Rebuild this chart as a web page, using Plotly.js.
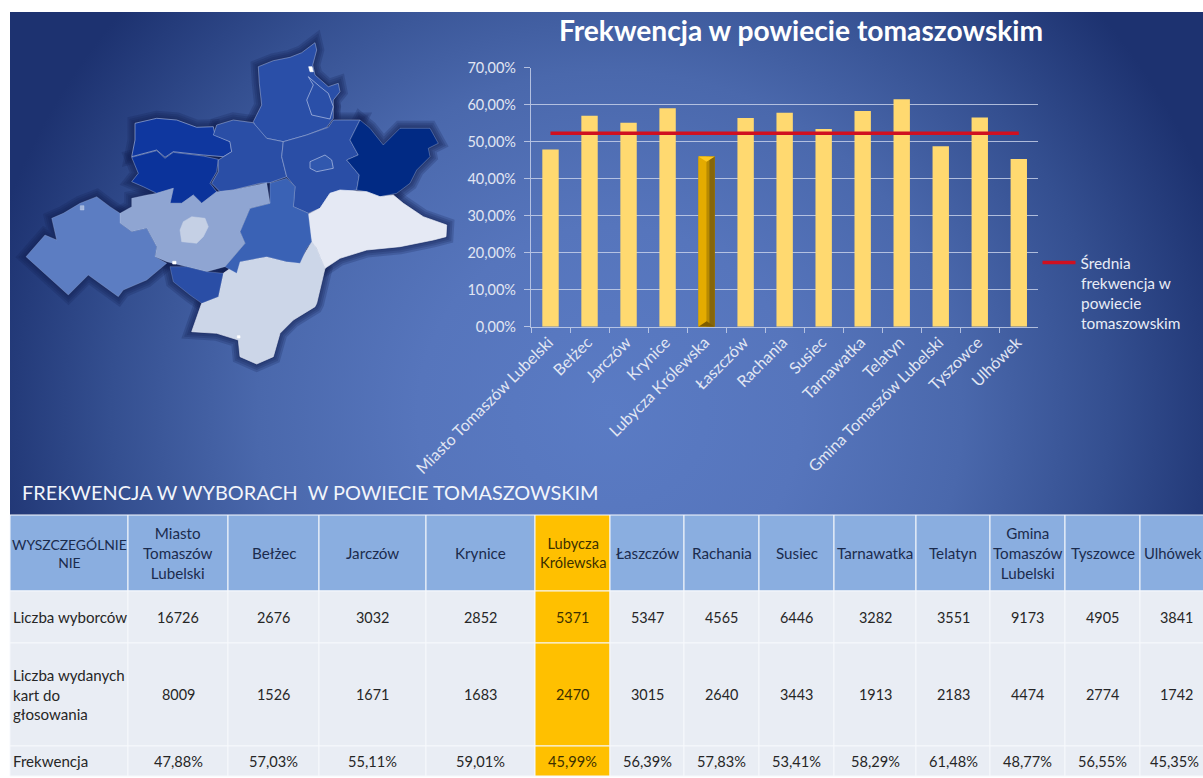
<!DOCTYPE html>
<html lang="pl">
<head>
<meta charset="utf-8">
<script src="https://cdn.plot.ly/plotly-3.0.1.min.js"></script>
<style>
html,body{margin:0;padding:0;background:#fff;overflow:hidden}
#panel{position:absolute;left:10px;top:12px;width:1193px;height:503px;
 background:radial-gradient(ellipse 640px 620px at 600px 400px,#5a7bc4 0%,#5675bc 30%,#4a68ac 55%,#344f90 78%,#1d3270 100%)}
#chart{position:absolute;left:0;top:0;width:1203px;height:778px}
</style>
</head>
<body>
<div id="panel"></div>
<div id="chart"></div>
<script>
const categories = ["Miasto Tomaszów Lubelski","Bełżec","Jarczów","Krynice","Lubycza Królewska","Łaszczów","Rachania","Susiec","Tarnawatka","Telatyn","Gmina Tomaszów Lubelski","Tyszowce","Ulhówek"];
const headerLabels = ["Miasto<br>Tomaszów<br>Lubelski","Bełżec","Jarczów","Krynice","Lubycza<br>Królewska","Łaszczów","Rachania","Susiec","Tarnawatka","Telatyn","Gmina<br>Tomaszów<br>Lubelski","Tyszowce","Ulhówek"];
const voters = [16726,2676,3032,2852,5371,5347,4565,6446,3282,3551,9173,4905,3841];
const ballots = [8009,1526,1671,1683,2470,3015,2640,3443,1913,2183,4474,2774,1742];
const turnout = [47.88,57.03,55.11,59.01,45.99,56.39,57.83,53.41,58.29,61.48,48.77,56.55,45.35];
const averageTurnout = [52.3,52.3,52.3,52.3,52.3,52.3,52.3,52.3,52.3,52.3,52.3,52.3,52.3];
const highlightIndex = 4;
const rowLabels = ["WYSZCZEGÓLNIE<br>NIE","Liczba wyborców","Liczba wydanych<br>kart do<br>głosowania","Frekwencja"];

const W = 1203, H = 778, FONT = "Lato, 'Open Sans', sans-serif";
const colEdges = [10,128,228,319,426,535,610,684,759,834,916,990,1065,1140,1215];
const rowEdges = [515,591,643,746,776];

const shapes = [], annotations = [];
const px = (s) => Object.assign({xref:'x2',yref:'y2'}, s);

/* decorative map, outlined in zoomed picture space */
const map = [
 {c:'#2a4fa8',b:'rgba(190,205,235,.55)',p:[[775,80],[820,62],[870,52],[905,38],[945,8],[950,30],[938,75],[945,105],[985,140],[1015,130],[1020,155],[1000,180],[1000,235],[980,262],[920,285],[850,305],[800,295],[770,268],[760,245],[785,195],[778,130]]},
 {c:'#2a4fa8',b:'rgba(205,215,240,.75)',p:[[925,110],[940,135],[920,180],[935,225],[990,237],[1000,200],[985,160],[960,140]]},
 {c:'#0f379f',b:'rgba(190,205,235,.7)',p:[[405,250],[470,235],[530,240],[590,262],[640,260],[645,285],[690,305],[695,335],[670,350],[610,345],[520,335],[495,352],[470,330],[395,350],[405,300]]},
 {c:'#0b339b',b:'rgba(190,205,235,.5)',p:[[395,352],[470,332],[495,355],[520,337],[610,348],[655,358],[650,395],[630,430],[650,455],[605,490],[580,465],[545,490],[510,490],[520,445],[470,460],[430,440],[395,425],[415,400]]},
 {c:'#2a4ea6',b:'rgba(190,205,235,.55)',p:[[650,255],[700,240],[760,248],[800,295],[850,305],[845,350],[860,410],[810,428],[780,430],[700,450],[660,455],[635,430],[655,395],[655,360],[695,335],[690,305],[640,285]]},
 {c:'#2a4ea6',b:'rgba(190,205,235,.55)',p:[[850,305],[920,285],[985,262],[1000,240],[1080,240],[1050,300],[1075,345],[1040,360],[1078,405],[1070,450],[990,460],[960,505],[925,520],[880,500],[885,440],[860,410],[845,350]]},
 {c:'#3158ae',b:'rgba(205,215,240,.75)',p:[[930,365],[975,345],[995,360],[1000,385],[950,395],[930,385]]},
 {c:'#012a84',b:'rgba(190,205,235,.4)',p:[[1080,240],[1110,265],[1150,315],[1200,265],[1290,265],[1315,310],[1285,325],[1290,350],[1250,390],[1230,430],[1190,460],[1140,470],[1100,455],[1070,450],[1078,405],[1040,360],[1075,345],[1050,300]]},
 {c:'#e5e9f4',b:'rgba(240,243,250,.8)',p:[[990,460],[1020,450],[1100,455],[1140,470],[1180,465],[1210,490],[1270,530],[1340,555],[1338,590],[1300,600],[1200,620],[1100,630],[1020,655],[975,685],[950,625],[935,605],[920,525],[960,505]]},
 {c:'#ccd6e8',b:'rgba(225,230,242,.8)',p:[[720,665],[800,650],[860,665],[900,665],[935,605],[950,625],[975,685],[950,790],[945,800],[880,840],[840,880],[820,950],[770,972],[720,950],[715,900],[650,880],[575,875],[605,790],[655,770],[670,700]]},
 {c:'#3a62b5',b:'rgba(190,205,235,.3)',p:[[810,430],[860,415],[885,440],[880,500],[925,520],[935,605],[920,625],[900,670],[860,665],[800,650],[720,665],[710,700],[675,680],[735,610],[720,575],[750,505],[810,490]]},
 {c:'#8fa5d2',b:'rgba(190,205,235,.3)',p:[[395,475],[440,465],[470,460],[520,445],[510,490],[545,490],[580,465],[605,490],[650,455],[700,450],[800,428],[810,490],[750,505],[720,575],[735,610],[675,680],[620,695],[560,680],[500,665],[465,650],[470,620],[440,565],[395,575],[360,550],[360,520],[395,500]]},
 {c:'#c5d0e5',b:'rgba(200,210,230,.6)',p:[[575,530],[615,535],[625,560],[610,590],[590,610],[545,605],[540,570],[550,545]]},
 {c:'#5c7dc2',b:'rgba(190,205,235,.3)',p:[[290,470],[330,500],[360,520],[360,550],[395,575],[440,565],[470,620],[465,650],[500,670],[440,720],[370,750],[355,770],[265,705],[205,765],[78,650],[135,585],[170,600],[155,535],[190,520],[240,490]]},
 {c:'#2a4ea6',b:'rgba(190,205,235,.3)',p:[[510,680],[560,680],[620,695],[670,700],[655,770],[605,790],[570,765],[520,725]]},
 {c:'#ffffff',b:'rgba(255,255,255,.8)',p:[[926,80],[936,80],[940,95],[930,95]]},
 {c:'#ffffff',b:'rgba(255,255,255,.8)',p:[[518,664],[528,664],[528,672],[518,672]]},
 {c:'#ffffff',b:'rgba(255,255,255,.8)',p:[[712,887],[720,887],[720,894],[712,894]]},
 {c:'#a4b7de',b:'rgba(200,212,236,.5)',p:[[241,497],[252,497],[252,510],[241,510]]}
];
const toPath = (pts) => 'M' + pts.map(q => (q[0]/3).toFixed(1)+','+(q[1]/3+40).toFixed(1)).join('L') + 'Z';
[15,11,7,3].forEach(w => map.slice(0,15).forEach(r => shapes.push(px({type:'path',layer:'below',path:toPath(r.p),
  fillcolor:'rgba(0,0,0,0)',line:{color:'rgba(16,34,84,.22)',width:w}}))));
map.forEach(r => shapes.push(px({type:'path',layer:'below',path:toPath(r.p),fillcolor:r.c,line:{color:r.b,width:0.8}})));

/* table */
const cellFill = (c,r) => c === highlightIndex+1 ? '#ffc000' : (r === 0 ? '#8aaee0' : '#e9edf4');
for (let r=0;r<4;r++) for (let c=0;c<14;c++){
  shapes.push(px({type:'rect',layer:'below',x0:colEdges[c],x1:colEdges[c+1],y0:rowEdges[r],y1:rowEdges[r+1],
    fillcolor:cellFill(c,r),line:{color:'#f6f8fc',width:1}}));
}
const cellText = (x,y,t,anchor,color,size) => annotations.push({xref:'x2',yref:'y2',x,y,text:t,xanchor:anchor,yanchor:'middle',
  showarrow:false,align:anchor==='center'?'center':'left',font:{family:FONT,size,color}});
const rowMid = r => (rowEdges[r]+rowEdges[r+1])/2;
const colMid = c => (colEdges[c]+colEdges[c+1])/2;
const pct = v => v.toFixed(2).replace('.',',')+'%';
cellText(colMid(0),rowMid(0),rowLabels[0],'center','#1b2b4d',13.9);
[1,2,3].forEach(r => cellText(10.5,rowMid(r),rowLabels[r],'left','#262626',15.1));
headerLabels.forEach((t,i)=>{
  const col = i+1, x = i===12 ? 1176 : colMid(col);
  const hc = i===highlightIndex ? '#3c3000' : '#1b2b4d', bc = i===highlightIndex ? '#3c3000' : '#262626';
  cellText(i===12 ? 1173 : x,rowMid(0),t,'center',hc,i===highlightIndex?14.6:(i===12?14.8:15.2));
  cellText(x,rowMid(1),String(voters[i]),'center',bc,14.4);
  cellText(x,rowMid(2),String(ballots[i]),'center',bc,14.4);
  cellText(i===12 ? 1174 : x,rowMid(3),pct(turnout[i]),'center',bc,14.6);
});
annotations.push({xref:'x2',yref:'y2',x:19.5,y:492,text:'FREKWENCJA W WYBORACH&nbsp;&nbsp;W POWIECIE TOMASZOWSKIM',xanchor:'left',yanchor:'middle',showarrow:false,
  font:{family:FONT,size:19.9,color:'#f2f5fb'}});
/* continuation of the wrapped legend entry */
annotations.push({xref:'x2',yref:'y2',x:1078.5,y:302.5,text:'frekwencja w<br>powiecie<br>tomaszowskim',xanchor:'left',yanchor:'middle',align:'left',showarrow:false,
  font:{family:FONT,size:15.4,color:'#e8ecf6'}});

/* bevel on the highlighted bar, derived from its value */
const bi = highlightIndex, bv = turnout[bi], hw = 0.21;
const poly = (pts,fill) => shapes.push({type:'path',xref:'x',yref:'y',layer:'above',fillcolor:fill,line:{width:0},
  path:'M'+pts.map(q=>(bi+q[0])+','+q[1]).join('L')+'Z'});
poly([[-hw,0],[0,0],[0,bv],[-hw,bv]],'#e4ab00');
poly([[0,0],[0.07,0],[0.07,bv],[0,bv]],'#b88a00');
poly([[0.07,0],[hw,0],[hw,bv],[0.07,bv]],'#86660a');
poly([[-hw,bv],[hw,bv],[0,bv-1.4]],'#ffc91f');
poly([[-hw,0],[hw,0],[0,1.5]],'#7d5c00');

const gridColor = 'rgba(205,214,236,.8)';
const tickFont = {family:FONT,size:14.5,color:'#e1e6f3'};
const data = [
 {type:'bar',x:categories,y:turnout,width:0.42,showlegend:false,hoverinfo:'x+y',
  marker:{color:categories.map((_,i)=>i===highlightIndex?'#c59600':'#ffd970'),line:{width:0}}},
 {type:'scatter',mode:'lines',x:categories,y:averageTurnout,name:'Średnia',
  line:{color:'#d01020',width:3.5},hoverinfo:'y'},
 {type:'scatter',mode:'markers',x:[0],y:[0],xaxis:'x2',yaxis:'y2',marker:{opacity:0},showlegend:false,hoverinfo:'skip'}
];
const layout = {
 width:W,height:H,margin:{l:0,r:0,t:0,b:0,pad:0},paper_bgcolor:'rgba(0,0,0,0)',plot_bgcolor:'rgba(0,0,0,0)',
 separators:', ',bargap:0.58,
 title:{text:'<b>Frekwencja w powiecie tomaszowskim</b>',x:801/W,xref:'paper',xanchor:'center',y:1-31/H,yanchor:'middle',
   font:{family:FONT,size:28.2,color:'#ffffff'}},
 xaxis:{domain:[531/W,1038.3/W],type:'category',categoryorder:'array',categoryarray:categories,range:[-0.5,12.5],
   tickangle:-45,tickfont:Object.assign({},tickFont,{size:16}),ticks:'outside',tickson:'boundaries',ticklen:5,tickcolor:gridColor,tickwidth:1.2,
   ticklabelstandoff:-1,ticklabelshift:-2,
   showline:true,linecolor:gridColor,linewidth:1.2,showgrid:false,automargin:false,anchor:'y'},
 yaxis:{domain:[1-326.7/H,1-67.7/H],range:[0,70],dtick:10,tickformat:'.2f',ticksuffix:'%',tickfont:tickFont,
   ticks:'outside',ticklen:6,tickcolor:gridColor,tickwidth:1.2,gridcolor:gridColor,gridwidth:1.2,ticklabelstandoff:5,
   showline:true,linecolor:gridColor,linewidth:1.2,zeroline:false,automargin:false,anchor:'x'},
 xaxis2:{domain:[0,1],range:[0,W],visible:false,fixedrange:true,anchor:'y2'},
 yaxis2:{domain:[0,1],range:[H,0],visible:false,fixedrange:true,anchor:'x2'},
 legend:{x:1037.5/W,y:1-246/H,xanchor:'left',yanchor:'top',xref:'paper',yref:'paper',bgcolor:'rgba(0,0,0,0)',
   itemwidth:33,font:{family:FONT,size:15.4,color:'#e8ecf6'},tracegroupgap:0},
 showlegend:true,shapes,annotations
};
Plotly.newPlot('chart',data,layout,{displayModeBar:false,responsive:false});
</script>
</body>
</html>
